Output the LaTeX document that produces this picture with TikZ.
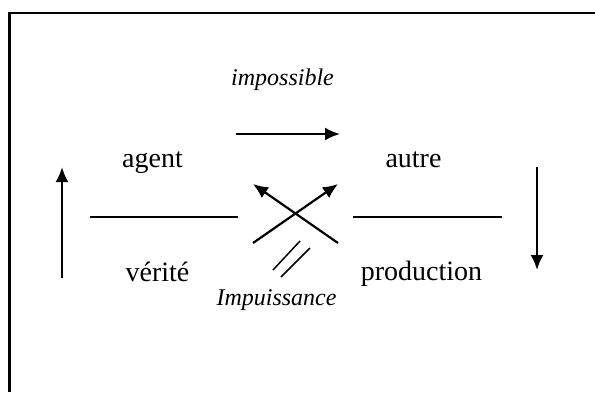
\documentclass[tikz,border=0pt]{standalone}
\usepackage{fontspec}
\setmainfont{Liberation Serif}
\usetikzlibrary{arrows.meta}

\begin{document}
\begin{tikzpicture}[x=1pt, y=-1pt,
    term/.style={inner sep=0pt, anchor=base, font=\fontsize{28}{32}\selectfont},
    tag/.style={inner sep=0pt, anchor=base, font=\fontsize{24}{28}\selectfont\itshape},
    arrow/.style={line width=2.2pt, -{Latex[length=15pt, width=13pt]}},
    bar/.style={line width=2.2pt},
    slash/.style={line width=1.5pt}]
  \useasboundingbox (0,0) rectangle (595,392);
  \draw[line width=2.5pt] (9.5,392) -- (9.5,13) -- (595,13);

  \node[tag] (imp) at (282.5,85) {impossible};
  \node[term] (ag) at (152.5,167) {agent};
  \node[term] (au) at (413.5,167) {autre};
  \node[term] (ve) at (157.5,281) {vérité};
  \node[term] (pr) at (421.5,280) {production};
  \node[tag] (impu) at (276.5,305) {Impuissance};

  \coordinate (ts) at (236,134);
  \coordinate (te) at (340,134);
  \coordinate (lf) at (62,278);
  \coordinate (lh) at (62,167);
  \coordinate (rf) at (537,167);
  \coordinate (rh) at (537,270);
  \coordinate (la) at (90,217);
  \coordinate (lb) at (238,217);
  \coordinate (ra) at (353,217);
  \coordinate (rb) at (502,217);
  \coordinate (sw) at (253,243);
  \coordinate (ne) at (338,184);
  \coordinate (se) at (338,243);
  \coordinate (nw) at (253,184);
  \coordinate (s1a) at (273,270);
  \coordinate (s1b) at (300,241);
  \coordinate (s2a) at (281,277);
  \coordinate (s2b) at (310,248);

  \draw[arrow] (ts) -- (te);
  \draw[arrow] (lf) -- (lh);
  \draw[arrow] (rf) -- (rh);
  \draw[bar] (la) -- (lb);
  \draw[bar] (ra) -- (rb);
  \draw[arrow] (sw) -- (ne);
  \draw[arrow] (se) -- (nw);
  \draw[slash] (s1a) -- (s1b);
  \draw[slash] (s2a) -- (s2b);
\end{tikzpicture}
\end{document}
